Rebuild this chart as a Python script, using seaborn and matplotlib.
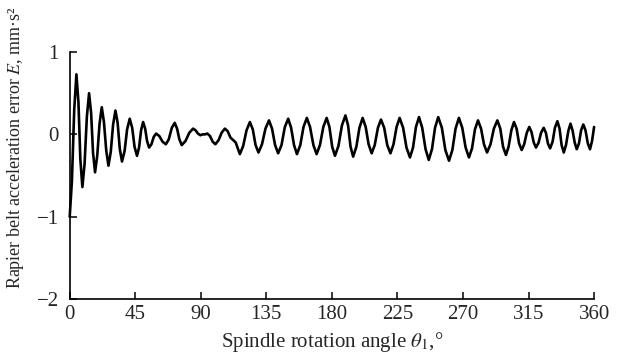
import matplotlib
matplotlib.use("Agg")
import matplotlib.pyplot as plt
import numpy as np
import pandas as pd
import seaborn as sns

# points (extrema plus two points on each flank)
angle = [0, 1.5, 3.1, 4.6, 6.0, 7.3, 8.7, 10.2, 11.8, 13.3, 14.7, 16.0, 17.4,
         18.9, 20.5, 22.0, 23.5, 25.1, 26.6, 28.2, 29.8, 31.4, 32.9, 34.4, 35.9,
         37.7, 39.4, 41.2, 42.9, 44.5, 46.2, 47.6, 49.0, 50.4, 51.8, 53.1, 54.5,
         56.1, 57.7, 59.3, 61.5, 63.8, 66.0, 68.0, 70.1, 72.1, 73.7, 75.3, 76.9,
         79.5, 82.1, 84.7, 86.4, 88.0, 89.7, 91.3, 92.9, 94.5, 96.3, 98.2, 100.0,
         102.2, 104.3, 106.5, 108.4, 110.4, 112.3, 114.0, 116.8,
         119.1, 121.4, 123.7, 125.7, 127.6, 129.6, 132.0, 134.4, 136.8, 138.9,
         141.0, 143.1, 145.4, 147.7, 150.0, 152.0, 154.0, 156.0, 158.3, 160.5,
         162.8, 165.0, 167.3, 169.5, 171.8, 174.1, 176.4, 178.3, 180.2, 182.1,
         184.5, 186.9, 189.3, 191.1, 192.8, 194.6, 196.8, 198.9, 201.1, 203.2,
         205.2, 207.3, 209.4, 211.6, 213.7, 215.9, 218.0, 220.2, 222.3, 224.4,
         226.5, 228.9, 231.2, 233.6, 235.7, 237.7, 239.8, 242.0, 244.3, 246.5,
         248.7, 250.8, 253.0, 255.5, 257.9, 260.4, 262.7, 264.9, 267.2, 269.5,
         271.8, 274.1, 276.2, 278.2, 280.3, 282.4, 284.4, 286.5, 288.9, 291.2,
         293.6, 295.6, 297.5, 299.5, 301.3, 303.2, 305.0, 306.8, 308.5, 310.3,
         312.0, 313.8, 315.5, 317.0, 318.6, 320.1, 321.9, 323.6, 325.4, 326.9,
         328.3, 329.8, 331.5, 333.1, 334.8, 336.3, 337.7, 339.2, 340.7, 342.3,
         343.8, 345.2, 346.7, 348.1, 349.6, 351.1, 352.6, 354.1, 355.7, 357.2,
         358.6, 360.0]
error = [-1.00, -0.57, 0.30, 0.73, 0.39, -0.30, -0.64, -0.36, 0.22, 0.50, 0.26, -0.22, -0.46,
         -0.26, 0.13, 0.33, 0.15, -0.20, -0.38, -0.21, 0.12, 0.29, 0.14, -0.18, -0.33,
         -0.20, 0.06, 0.19, 0.08, -0.15, -0.26, -0.16, 0.05, 0.15, 0.07, -0.08, -0.16,
         -0.12, -0.03, 0.01, -0.02, -0.09, -0.12, -0.06, 0.08, 0.14, 0.07, -0.06, -0.13,
         -0.08, 0.02, 0.07, 0.05, 0.01, -0.01, 0.00, 0.00, 0.01, -0.02, -0.09, -0.12,
         -0.07, 0.02, 0.07, 0.04, -0.04, -0.07, -0.10, -0.24,
         -0.14, 0.05, 0.15, 0.06, -0.13, -0.22, -0.12, 0.07, 0.17, 0.07,
         -0.13, -0.23, -0.13, 0.09, 0.19, 0.08, -0.13, -0.24, -0.13, 0.09,
         0.20, 0.09, -0.13, -0.24, -0.13, 0.09, 0.20, 0.09, -0.15, -0.26,
         -0.14, 0.11, 0.23, 0.11, -0.15, -0.27, -0.15, 0.08, 0.20, 0.09,
         -0.12, -0.23, -0.13, 0.08, 0.18, 0.08, -0.13, -0.23, -0.12, 0.09,
         0.20, 0.08, -0.16, -0.28, -0.16, 0.09, 0.21, 0.08, -0.18, -0.31,
         -0.18, 0.08, 0.21, 0.08, -0.19, -0.32, -0.19, 0.07, 0.20, 0.08,
         -0.16, -0.28, -0.17, 0.06, 0.17, 0.07, -0.12, -0.22, -0.12, 0.07,
         0.17, 0.07, -0.15, -0.25, -0.15, 0.05, 0.15, 0.07, -0.11, -0.19,
         -0.12, 0.02, 0.09, 0.03, -0.10, -0.16, -0.10, 0.02, 0.08, 0.02,
         -0.11, -0.17, -0.09, 0.08, 0.16, 0.07, -0.13, -0.22, -0.13, 0.04,
         0.13, 0.05, -0.10, -0.18, -0.11, 0.05, 0.12, 0.05, -0.11, -0.18,
         -0.08, 0.09]

xticks = [0, 45, 90, 135, 180, 225, 270, 315, 360]
yticks = [-2, -1, 0, 1]

df = pd.DataFrame({"angle": angle, "error": error})

sns.set_style("ticks")
plt.rcParams["font.family"] = ["Liberation Serif", "DejaVu Serif"]
plt.rcParams["mathtext.fontset"] = "stix"

fig = plt.figure(figsize=(6.28, 3.59), dpi=100)
ax = fig.add_axes([0.111, 0.167, 0.835, 0.688])

sns.lineplot(data=df, x="angle", y="error", color="black", linewidth=1.9,
             ax=ax, sort=False)
for line in ax.lines:
    line.set_solid_joinstyle("round")
    line.set_solid_capstyle("round")
    line.set_clip_on(False)

ax.set_xlim(0, 360)
ax.set_ylim(-2, 1)
ax.set_xticks(xticks)
ax.set_yticks(yticks)
ax.set_yticklabels(["\u22122", "\u22121", "0", "1"])
ax.tick_params(direction="in", length=5, width=1.1, labelsize=15, color="black")
ax.tick_params(axis="x", pad=4)
ax.tick_params(axis="y", pad=8)
for s in ["left", "bottom"]:
    ax.spines[s].set_linewidth(1.2)
    ax.spines[s].set_color("black")
sns.despine(ax=ax)

ax.set_xlabel("Spindle rotation angle $\\theta_1$,\u00b0", fontsize=15)
ax.xaxis.set_label_coords(0.5, -0.125)
ax.set_ylabel("Rapier belt acceleration error $E$, mm\u00b7s\u00b2", fontsize=13)
ax.yaxis.set_label_coords(-0.083, 0.615)

fig.savefig("out.png", dpi=100)
